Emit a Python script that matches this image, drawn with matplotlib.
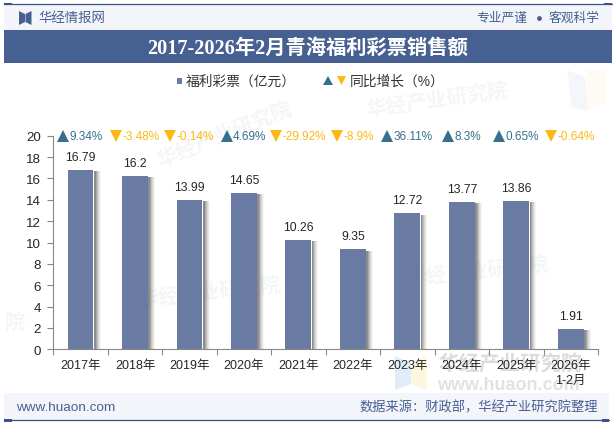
import matplotlib
matplotlib.use('Agg')
import matplotlib.pyplot as plt
from matplotlib.patches import Rectangle, Polygon

plt.rcParams['font.family'] = ['Liberation Sans', 'Noto Sans CJK SC', 'DejaVu Sans']

W, H = 615, 427

years = ['2017年', '2018年', '2019年', '2020年', '2021年', '2022年', '2023年', '2024年', '2025年', '2026年\n1-2月']
sales = [16.79, 16.2, 13.99, 14.65, 10.26, 9.35, 12.72, 13.77, 13.86, 1.91]
sales_labels = ['16.79', '16.2', '13.99', '14.65', '10.26', '9.35', '12.72', '13.77', '13.86', '1.91']
growth = [9.34, -3.48, -0.14, 4.69, -29.92, -8.9, 36.11, 8.3, 0.65, -0.64]
y_ticks = [0, 2, 4, 6, 8, 10, 12, 14, 16, 18, 20]

BAND = '#476092'
LINE = '#3a5383'
LIGHT = '#f3f5fa'
BAR = '#6a7ba3'
UP = '#35708f'
DOWN = '#fdb913'
TXT = '#262626'

fig = plt.figure(figsize=(W / 100, H / 100), dpi=100, facecolor='white')

# page furniture is placed in pixel coordinates on a full-figure layer
bg = fig.add_axes([0, 0, 1, 1], zorder=0)
bg.set_xlim(0, W)
bg.set_ylim(H, 0)
bg.axis('off')

bg.add_patch(Rectangle((4, 5), 608, 26, fc=LIGHT, ec='none'))
bg.add_patch(Rectangle((4, 31), 608, 33, fc=BAND, ec='none'))
bg.add_patch(Rectangle((4, 394), 605, 27, fc=LIGHT, ec='none'))
bg.plot([4, 612], [4.6, 4.6], color=LINE, lw=0.9)
bg.add_patch(Rectangle((4, 3.5), 8, 2.5, fc=LINE, ec='none'))
bg.add_patch(Rectangle((604, 3.5), 8, 2.5, fc=LINE, ec='none'))
bg.plot([4, 609], [421.4, 421.4], color=LINE, lw=0.9)
bg.add_patch(Rectangle((4, 420), 8, 2.5, fc=LINE, ec='none'))
bg.add_patch(Rectangle((602, 420), 7, 2.5, fc=LINE, ec='none'))

# logo mark
bg.add_patch(Polygon([(19, 12), (25, 15), (25, 23), (19, 26)], fc=BAND, ec='none'))
bg.add_patch(Polygon([(31.5, 12), (25.5, 15), (25.5, 23), (31.5, 26)], fc=BAND, ec='none'))

bg.text(38.5, 18.5, '华经情报网', fontsize=9.65, color=BAND, va='center', ha='left')
bg.text(476, 18.5, '专业严谨', fontsize=9.2, color=BAND, va='center', ha='left')
bg.plot([539], [18.5], 'o', color=BAND, ms=3.5, mew=0)
bg.text(549, 18.5, '客观科学', fontsize=9.2, color=BAND, va='center', ha='left')
bg.text(307.5, 49, '2017-2026年2月青海福利彩票销售额', fontsize=14.6, color='white', weight='bold',
        family=['Liberation Serif', 'Noto Sans CJK SC'], va='center', ha='center')

# legend row
bg.add_patch(Rectangle((177, 79), 4.5, 6, fc=BAR, ec='none'))
bg.text(186, 82, '福利彩票（亿元）', fontsize=9.9, color='#333333', va='center', ha='left')
bg.add_patch(Polygon([(323, 86), (333, 86), (328, 77)], fc=UP, ec='none'))
bg.add_patch(Polygon([(337, 77), (346, 77), (341.5, 86)], fc=DOWN, ec='none'))
bg.text(350, 82, '同比增长（%）', fontsize=9.9, color='#333333', va='center', ha='left')

bg.text(16, 408, 'www.huaon.com', fontsize=9.7, color=BAND, va='center', ha='left')
bg.text(598, 408, '数据来源：财政部，华经产业研究院整理', fontsize=9.5, color=BAND, va='center', ha='right')

# faint site watermarks
for wx, wy, rot in [(437, 101, 8), (225, 135, 22), (210, 293, 6), (478, 272, 6)]:
    bg.text(wx, wy, '华经产业研究院', fontsize=14.8, color='#e4e7ec', alpha=0.38, weight='bold',
            rotation=rot, va='center', ha='center')
bg.text(5, 323, '院', fontsize=14.8, color='#e4e7ec', alpha=0.38, weight='bold', va='center', ha='left')
bg.text(510, 365, '华经产业研究院', fontsize=14.8, color='#dcdcdc', weight='bold', va='center', ha='center')
bg.text(508, 386, 'www.huaon.com', fontsize=13, color='#e2e2e2', weight='bold', va='center', ha='center')
bg.add_patch(Polygon([(395, 357), (411, 364), (411, 385), (395, 391)], fc='#d8e6f8', alpha=0.75, ec='none'))
bg.add_patch(Polygon([(427, 357), (411, 364), (411, 385), (427, 391)], fc='#fbf3d5', alpha=0.75, ec='none'))
bg.add_patch(Polygon([(567, 71), (585, 78), (588, 112), (572, 108)], fc='#eef4fb', alpha=0.7, ec='none'))
bg.add_patch(Polygon([(586, 72), (607, 70), (607, 104), (588, 110)], fc='#fdfbf0', alpha=0.8, ec='none'))

# chart area: x 53-598, y 136.7-350.3 px
ax = fig.add_axes([53.3 / W, 1 - 350.3 / H, 544.7 / W, 213.6 / H], zorder=1)
ax.patch.set_alpha(0)
x = list(range(len(years)))
ax.set_xlim(-0.5, len(years) - 0.5)
ax.set_ylim(0, 20)

# soft shadow to the right of each bar, darkest next to the bar
px = 1 / 54.47
for off, a in [(7, 0.05), (6, 0.07), (5, 0.10), (4, 0.14), (3, 0.20), (2, 0.28)]:
    ax.bar([i + off * px / 2 for i in x], [v - 0.1 for v in sales], width=0.48 + off * px,
           color='#444444', alpha=a, lw=0, zorder=1)
ax.bar(x, sales, width=0.49, color='white', lw=0, zorder=1.5)
ax.bar(x, sales, width=0.475, color=BAR, lw=0, zorder=2)

for i, v, s in zip(x, sales, sales_labels):
    ax.text(i, v + 1.22, s, fontsize=8.8, color=TXT, ha='center', va='center')

# growth row: marker and text centred as one unit over each category
renderer = fig.canvas.get_renderer()
tri_w, gap = 10, 1.5
for i, g in enumerate(growth):
    col = UP if g >= 0 else DOWN
    mark = '^' if g >= 0 else 'v'
    t = ax.text(i, 20, f'{g:g}%', fontsize=8.5, color=col, ha='left', va='center', zorder=3)
    tw = t.get_window_extent(renderer).width
    left = i - (tri_w + gap + tw) / 2 * px
    t.set_x(left + (tri_w + gap) * px)
    ax.plot([left + tri_w / 2 * px], [20], marker=mark, color=col, ms=8, mew=0, clip_on=False, zorder=3)

for side in ['top', 'right']:
    ax.spines[side].set_visible(False)
for side in ['left', 'bottom']:
    ax.spines[side].set_color('#888888')
ax.set_yticks(y_ticks)
ax.set_xticks([i - 0.5 for i in range(len(years) + 1)])
ax.set_xticklabels([])
ax.tick_params(axis='y', length=4, color='#888888', labelsize=9.6, labelcolor=TXT, pad=5)
ax.tick_params(axis='x', length=4, color='#888888')

for i, lab in enumerate(years):
    ax.text(i, -0.95, lab, fontsize=9, color=TXT, ha='center', va='top', linespacing=1.3)

fig.savefig('out.png', dpi=100)
plt.close(fig)
